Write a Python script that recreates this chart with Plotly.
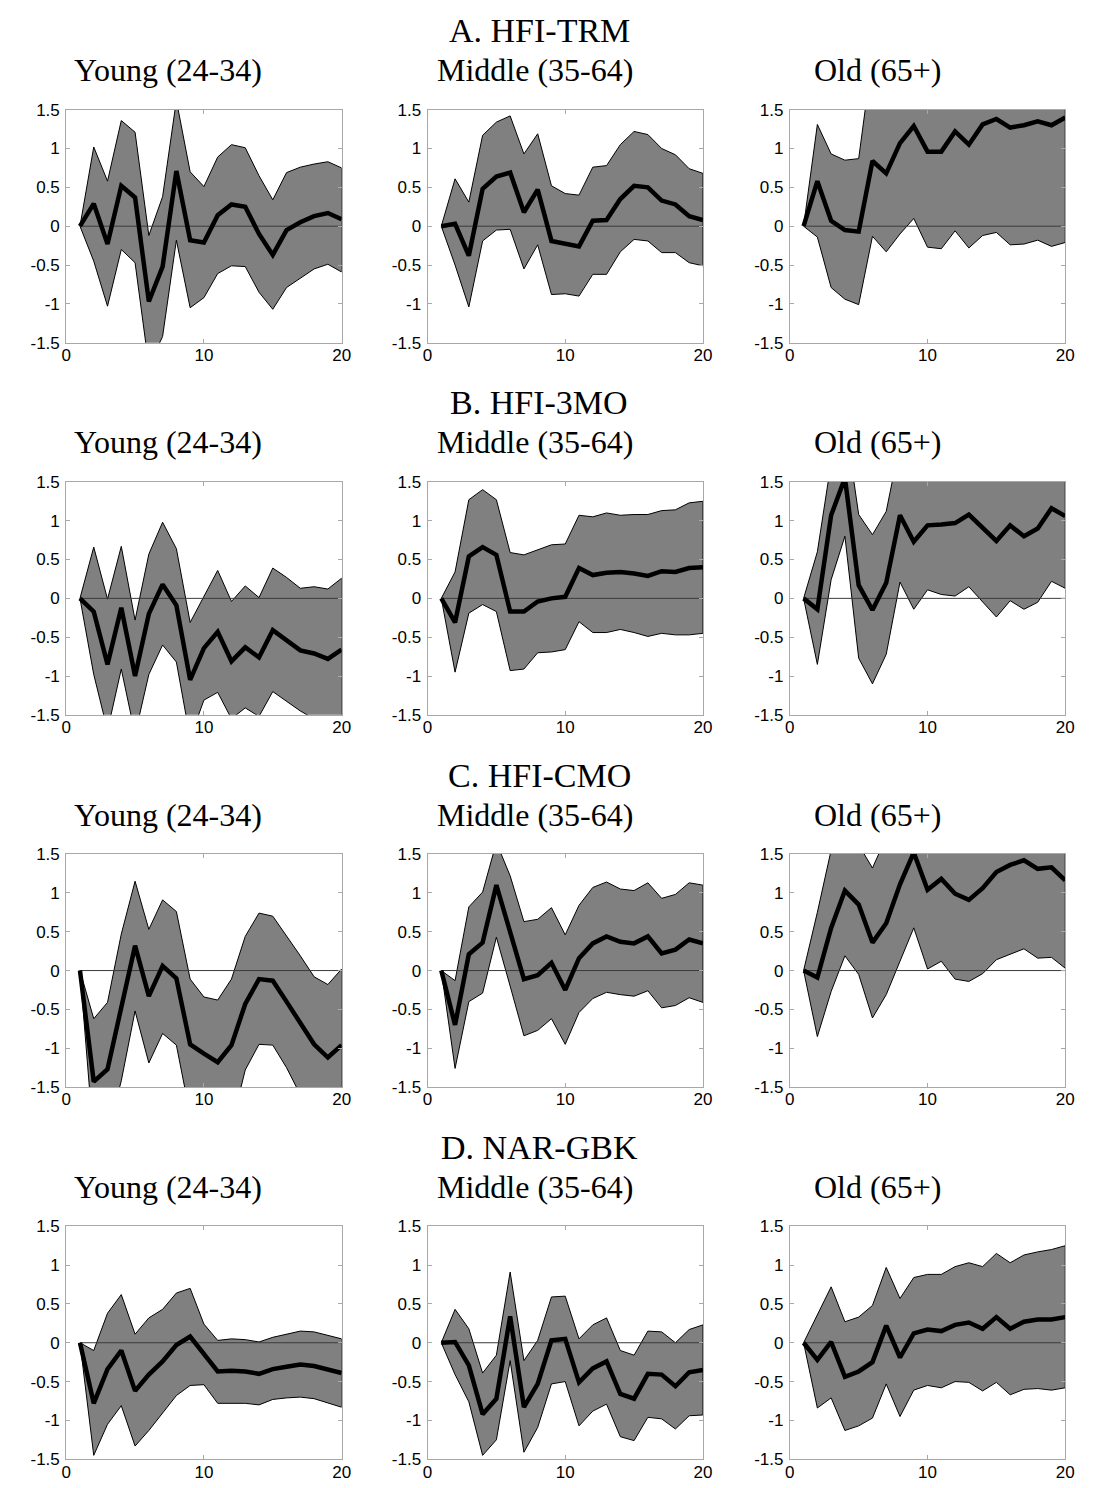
import plotly.graph_objects as go

W, H = 1094, 1488

horizon = list(range(1, 21))

# ---------- A. HFI-TRM ----------
TRM_young_mean = [0, 0.29, -0.23, 0.52, 0.37, -0.97, -0.52, 0.71, -0.18, -0.21, 0.14, 0.28, 0.25, -0.10, -0.37, -0.05, 0.05, 0.13, 0.17, 0.09]
TRM_young_hi = [0, 1.02, 0.58, 1.36, 1.21, -0.12, 0.38, 1.62, 0.70, 0.51, 0.89, 1.05, 1.01, 0.65, 0.34, 0.69, 0.76, 0.80, 0.83, 0.75]
TRM_young_lo = [0, -0.45, -1.03, -0.30, -0.47, -1.80, -1.42, -0.18, -1.05, -0.92, -0.61, -0.51, -0.52, -0.85, -1.07, -0.79, -0.67, -0.55, -0.49, -0.59]

TRM_mid_mean = [0, 0.03, -0.38, 0.48, 0.64, 0.69, 0.18, 0.47, -0.19, -0.22, -0.26, 0.07, 0.08, 0.35, 0.52, 0.50, 0.33, 0.28, 0.13, 0.08]
TRM_mid_hi = [0, 0.61, 0.31, 1.17, 1.34, 1.42, 0.93, 1.19, 0.52, 0.42, 0.40, 0.76, 0.78, 1.05, 1.22, 1.18, 1.00, 0.92, 0.74, 0.68]
TRM_mid_lo = [0, -0.50, -1.04, -0.19, -0.05, -0.04, -0.55, -0.24, -0.88, -0.87, -0.90, -0.62, -0.62, -0.33, -0.17, -0.19, -0.34, -0.34, -0.47, -0.51]

TRM_old_mean = [0, 0.58, 0.07, -0.05, -0.07, 0.84, 0.68, 1.07, 1.29, 0.96, 0.96, 1.22, 1.05, 1.31, 1.38, 1.27, 1.30, 1.35, 1.30, 1.40]
TRM_old_hi = [0, 1.31, 0.93, 0.85, 0.87, 2.20, 2.10, 2.40, 2.60, 2.30, 2.30, 2.50, 2.40, 2.60, 2.70, 2.60, 2.70, 2.80, 2.80, 2.90]
TRM_old_lo = [0, -0.14, -0.79, -0.94, -1.01, -0.13, -0.33, -0.10, 0.10, -0.27, -0.29, -0.06, -0.28, -0.12, -0.08, -0.24, -0.23, -0.18, -0.26, -0.21]

# ---------- B. HFI-3MO ----------
MO3_young_mean = [0, -0.17, -0.85, -0.12, -1.00, -0.20, 0.18, -0.09, -1.05, -0.64, -0.43, -0.81, -0.63, -0.76, -0.41, -0.54, -0.67, -0.71, -0.78, -0.66]
MO3_young_hi = [0, 0.66, -0.01, 0.67, -0.28, 0.57, 0.98, 0.64, -0.31, 0.02, 0.36, -0.04, 0.16, 0.01, 0.39, 0.27, 0.13, 0.15, 0.12, 0.26]
MO3_young_lo = [0, -0.98, -1.70, -0.91, -1.75, -0.98, -0.60, -0.82, -1.80, -1.31, -1.21, -1.55, -1.41, -1.52, -1.20, -1.33, -1.45, -1.55, -1.60, -1.60]

MO3_mid_mean = [0, -0.31, 0.54, 0.66, 0.56, -0.17, -0.17, -0.04, 0.00, 0.02, 0.39, 0.30, 0.33, 0.34, 0.32, 0.29, 0.35, 0.34, 0.39, 0.40]
MO3_mid_hi = [0, 0.34, 1.27, 1.40, 1.27, 0.59, 0.56, 0.63, 0.69, 0.70, 1.07, 1.05, 1.10, 1.07, 1.08, 1.08, 1.13, 1.14, 1.23, 1.25]
MO3_mid_lo = [0, -0.95, -0.19, -0.08, -0.17, -0.93, -0.91, -0.70, -0.69, -0.66, -0.30, -0.44, -0.44, -0.40, -0.44, -0.49, -0.45, -0.47, -0.47, -0.45]

MO3_old_mean = [0, -0.14, 1.07, 1.55, 0.17, -0.15, 0.20, 1.07, 0.73, 0.94, 0.95, 0.97, 1.08, 0.91, 0.74, 0.94, 0.80, 0.90, 1.16, 1.06]
MO3_old_hi = [0, 0.60, 1.75, 2.30, 1.08, 0.82, 1.12, 2.00, 2.00, 2.10, 2.10, 2.10, 2.20, 2.10, 2.00, 2.20, 2.10, 2.20, 2.40, 2.30]
MO3_old_lo = [0, -0.85, 0.24, 0.80, -0.77, -1.10, -0.72, 0.21, -0.14, 0.11, 0.05, 0.03, 0.15, -0.05, -0.24, -0.03, -0.14, -0.05, 0.22, 0.13]

# ---------- C. HFI-CMO ----------
CMO_young_mean = [0, -1.43, -1.27, -0.45, 0.32, -0.33, 0.06, -0.10, -0.95, -1.07, -1.18, -0.96, -0.43, -0.11, -0.13, -0.40, -0.68, -0.95, -1.12, -0.96]
CMO_young_hi = [0, -0.62, -0.41, 0.47, 1.15, 0.53, 0.91, 0.76, -0.11, -0.34, -0.38, -0.11, 0.44, 0.74, 0.70, 0.45, 0.19, -0.08, -0.18, 0.02]
CMO_young_lo = [0, -2.20, -2.10, -1.42, -0.52, -1.19, -0.81, -0.96, -1.86, -1.90, -1.95, -2.00, -1.28, -0.95, -0.96, -1.25, -1.60, -1.85, -1.95, -1.85]

CMO_mid_mean = [0, -0.70, 0.21, 0.36, 1.10, 0.50, -0.11, -0.06, 0.10, -0.25, 0.16, 0.35, 0.44, 0.37, 0.35, 0.44, 0.22, 0.27, 0.40, 0.35]
CMO_mid_hi = [0, -0.13, 0.82, 1.01, 1.65, 1.22, 0.63, 0.66, 0.81, 0.46, 0.84, 1.07, 1.14, 1.05, 1.03, 1.13, 0.93, 0.98, 1.13, 1.10]
CMO_mid_lo = [0, -1.26, -0.40, -0.29, 0.43, -0.20, -0.84, -0.77, -0.62, -0.95, -0.54, -0.36, -0.28, -0.31, -0.33, -0.26, -0.48, -0.45, -0.35, -0.41]

CMO_old_mean = [0, -0.09, 0.55, 1.03, 0.85, 0.36, 0.61, 1.11, 1.52, 1.04, 1.18, 0.99, 0.91, 1.06, 1.27, 1.36, 1.42, 1.31, 1.33, 1.16]
CMO_old_hi = [0, 0.75, 1.55, 2.00, 1.62, 1.32, 1.72, 2.10, 2.40, 2.00, 2.10, 2.00, 1.90, 2.00, 2.20, 2.30, 2.40, 2.30, 2.30, 2.20]
CMO_old_lo = [0, -0.85, -0.27, 0.19, -0.05, -0.61, -0.31, 0.12, 0.55, 0.02, 0.12, -0.11, -0.14, -0.04, 0.14, 0.21, 0.28, 0.16, 0.17, 0.03]

# ---------- D. NAR-GBK ----------
GBK_young_mean = [0, -0.78, -0.34, -0.10, -0.62, -0.41, -0.24, -0.03, 0.08, -0.15, -0.37, -0.36, -0.37, -0.40, -0.34, -0.31, -0.28, -0.30, -0.35, -0.39]
GBK_young_hi = [0, -0.10, 0.38, 0.62, 0.11, 0.32, 0.43, 0.64, 0.70, 0.24, 0.03, 0.05, 0.04, 0.01, 0.07, 0.11, 0.15, 0.14, 0.09, 0.05]
GBK_young_lo = [0, -1.45, -1.05, -0.81, -1.33, -1.13, -0.91, -0.68, -0.55, -0.54, -0.78, -0.78, -0.78, -0.80, -0.73, -0.71, -0.70, -0.72, -0.77, -0.83]

GBK_mid_mean = [0, 0.01, -0.29, -0.92, -0.72, 0.34, -0.83, -0.53, 0.03, 0.05, -0.51, -0.33, -0.24, -0.66, -0.72, -0.40, -0.41, -0.56, -0.38, -0.35]
GBK_mid_hi = [0, 0.43, 0.18, -0.39, -0.16, 0.91, -0.23, 0.03, 0.59, 0.60, 0.05, 0.23, 0.32, -0.10, -0.16, 0.15, 0.14, 0.00, 0.17, 0.23]
GBK_mid_lo = [0, -0.41, -0.76, -1.45, -1.25, -0.23, -1.41, -1.09, -0.53, -0.50, -1.07, -0.88, -0.79, -1.21, -1.26, -0.96, -0.98, -1.11, -0.94, -0.93]

GBK_old_mean = [0, -0.22, 0.01, -0.44, -0.37, -0.25, 0.22, -0.19, 0.12, 0.17, 0.15, 0.23, 0.26, 0.18, 0.33, 0.18, 0.27, 0.30, 0.30, 0.33]
GBK_old_hi = [0, 0.37, 0.72, 0.27, 0.33, 0.48, 0.97, 0.57, 0.84, 0.88, 0.88, 0.98, 1.03, 0.98, 1.15, 1.03, 1.13, 1.17, 1.20, 1.25]
GBK_old_lo = [0, -0.84, -0.71, -1.13, -1.07, -0.97, -0.53, -0.95, -0.61, -0.55, -0.58, -0.50, -0.51, -0.62, -0.51, -0.67, -0.60, -0.59, -0.61, -0.58]

row_titles = ["A. HFI-TRM", "B. HFI-3MO", "C. HFI-CMO", "D. NAR-GBK"]
col_titles = ["Young (24-34)", "Middle (35-64)", "Old (65+)"]

x_ticks = [0, 10, 20]
x_ticktext = ["0", "10", "20"]
y_ticks = [-1.5, -1, -0.5, 0, 0.5, 1, 1.5]
y_ticktext = ["-1.5", "-1", "-0.5", "0", "0.5", "1", "1.5"]

panels = [
    [(TRM_young_mean, TRM_young_hi, TRM_young_lo), (TRM_mid_mean, TRM_mid_hi, TRM_mid_lo), (TRM_old_mean, TRM_old_hi, TRM_old_lo)],
    [(MO3_young_mean, MO3_young_hi, MO3_young_lo), (MO3_mid_mean, MO3_mid_hi, MO3_mid_lo), (MO3_old_mean, MO3_old_hi, MO3_old_lo)],
    [(CMO_young_mean, CMO_young_hi, CMO_young_lo), (CMO_mid_mean, CMO_mid_hi, CMO_mid_lo), (CMO_old_mean, CMO_old_hi, CMO_old_lo)],
    [(GBK_young_mean, GBK_young_hi, GBK_young_lo), (GBK_mid_mean, GBK_mid_hi, GBK_mid_lo), (GBK_old_mean, GBK_old_hi, GBK_old_lo)],
]

# pixel layout
col_x = [(62, 341), (428, 707), (795, 1074)]
row_top0, panel_h, row_step = 102, 236, 377
title_y0, sub_y0 = 22, 62
col_title_cx = [165, 537, 884]
row_title_cx = 541

fig = go.Figure()
layout = dict(
    width=W, height=H, margin=dict(l=0, r=0, t=0, b=0),
    paper_bgcolor="white", plot_bgcolor="white", showlegend=False,
)
annotations = []

serif = "Liberation Serif, Times New Roman, serif"
sans = "Liberation Sans, Arial, sans-serif"
axis_col = "#a8a8a8"

for r in range(4):
    top = row_top0 + r * row_step
    bot = top + panel_h
    annotations.append(dict(
        text=row_titles[r], x=row_title_cx / W, y=1 - (title_y0 + r * row_step) / H,
        xref="paper", yref="paper", showarrow=False, xanchor="center", yanchor="middle",
        font=dict(family=serif, size=34, color="black")))
    for c in range(3):
        k = r * 3 + c + 1
        xn = "x" if k == 1 else f"x{k}"
        yn = "y" if k == 1 else f"y{k}"
        xa = "xaxis" if k == 1 else f"xaxis{k}"
        ya = "yaxis" if k == 1 else f"yaxis{k}"
        x0, x1 = col_x[c]
        mean, hi, lo = panels[r][c]

        fig.add_trace(go.Scatter(
            x=horizon + horizon[::-1], y=hi + lo[::-1], xaxis=xn, yaxis=yn,
            mode="lines", fill="toself", fillcolor="#808080",
            line=dict(color="black", width=1), hoverinfo="skip"))
        fig.add_trace(go.Scatter(
            x=[horizon[0], horizon[-1]], y=[0, 0], xaxis=xn, yaxis=yn,
            mode="lines", line=dict(color="#3a3a3a", width=1), hoverinfo="skip"))
        fig.add_trace(go.Scatter(
            x=horizon, y=mean, xaxis=xn, yaxis=yn,
            mode="lines", line=dict(color="black", width=4.5)))

        layout[xa] = dict(
            domain=[x0 / W, x1 / W], range=[0, 20], anchor=yn,
            tickvals=x_ticks, ticktext=x_ticktext, ticks="inside", ticklen=4,
            tickcolor=axis_col, showline=True, linecolor=axis_col, linewidth=1,
            mirror="ticks", showgrid=False, zeroline=False, ticklabelstandoff=-3,
            tickfont=dict(family=sans, size=17, color="black"), fixedrange=True)
        layout[ya] = dict(
            domain=[1 - bot / H, 1 - top / H], range=[-1.5, 1.5], anchor=xn,
            tickvals=y_ticks, ticktext=y_ticktext, ticks="inside", ticklen=4,
            tickcolor=axis_col, showline=True, linecolor=axis_col, linewidth=1,
            mirror="ticks", showgrid=False, zeroline=False, ticklabelstandoff=2,
            tickfont=dict(family=sans, size=17, color="black"), fixedrange=True)

        annotations.append(dict(
            text=col_titles[c], x=col_title_cx[c] / W, y=1 - (sub_y0 + r * row_step) / H,
            xref="paper", yref="paper", showarrow=False, xanchor="center", yanchor="middle",
            font=dict(family=serif, size=32, color="black")))

layout["annotations"] = annotations
fig.update_layout(**layout)
fig.write_html("out.html")
